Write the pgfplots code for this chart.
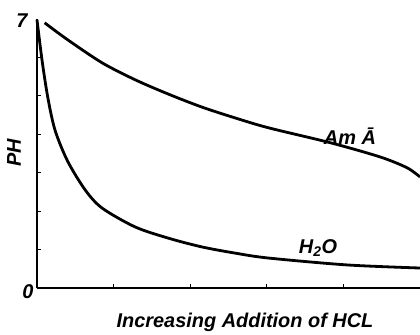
\documentclass[border=0pt]{standalone}
\usepackage{pgfplots}
\pgfplotsset{compat=1.18}
\usepackage{fontspec}
\setmainfont{Liberation Sans}
\begin{document}
\begin{tikzpicture}[x=1bp,y=1bp]
\begin{axis}[
  at={(0,0)}, anchor=south west,
  scale only axis, width=383bp, height=269bp,
  xmin=0, xmax=5, ymin=0, ymax=7,
  axis x line=bottom, axis y line=left,
  axis line style={-, line width=1.4bp},
  tick align=inside, major tick length=4bp,
  tick style={line width=1bp, black},
  xtick={1,2,3,4}, ytick={1,2,3,4,5,6},
  xticklabels={}, yticklabels={},
  clip=false,
]
\addplot[black, line width=2.8bp, smooth, tension=0.5] coordinates {
(0.10,6.90) (0.40,6.46) (0.85,5.86) (1.28,5.42) (1.71,5.05) (2.15,4.71)
(2.58,4.43) (3.02,4.17) (3.83,3.78) (4.48,3.41) (4.83,3.13) (5.0,2.89)
};
\addplot[black, line width=2.8bp, smooth, tension=0.5] coordinates {
(0.0,6.98) (0.065,5.94) (0.14,4.97) (0.235,4.11) (0.40,3.30)
(0.63,2.55) (0.85,2.08) (1.28,1.59) (1.71,1.30) (2.15,1.07) (2.58,0.91)
(3.02,0.78) (4.05,0.60) (5.0,0.52)
};
\end{axis}
\begin{scope}[font=\fontsize{20}{22}\selectfont\bfseries\itshape]
\node at (-15bp,267bp) {7};
\node at (-9bp,-4bp) {0};
\node[rotate=90] at (-23bp,135bp) {PH};
\node at (208bp,-34bp) {Increasing Addition of HCL};
\node at (281bp,40bp) {H\textsubscript{2}O};
\node at (313bp,152bp) {Am \={A}};
\end{scope}
\pgfresetboundingbox
\path (-37bp,-47bp) rectangle (383bp,288bp);
\end{tikzpicture}
\end{document}
